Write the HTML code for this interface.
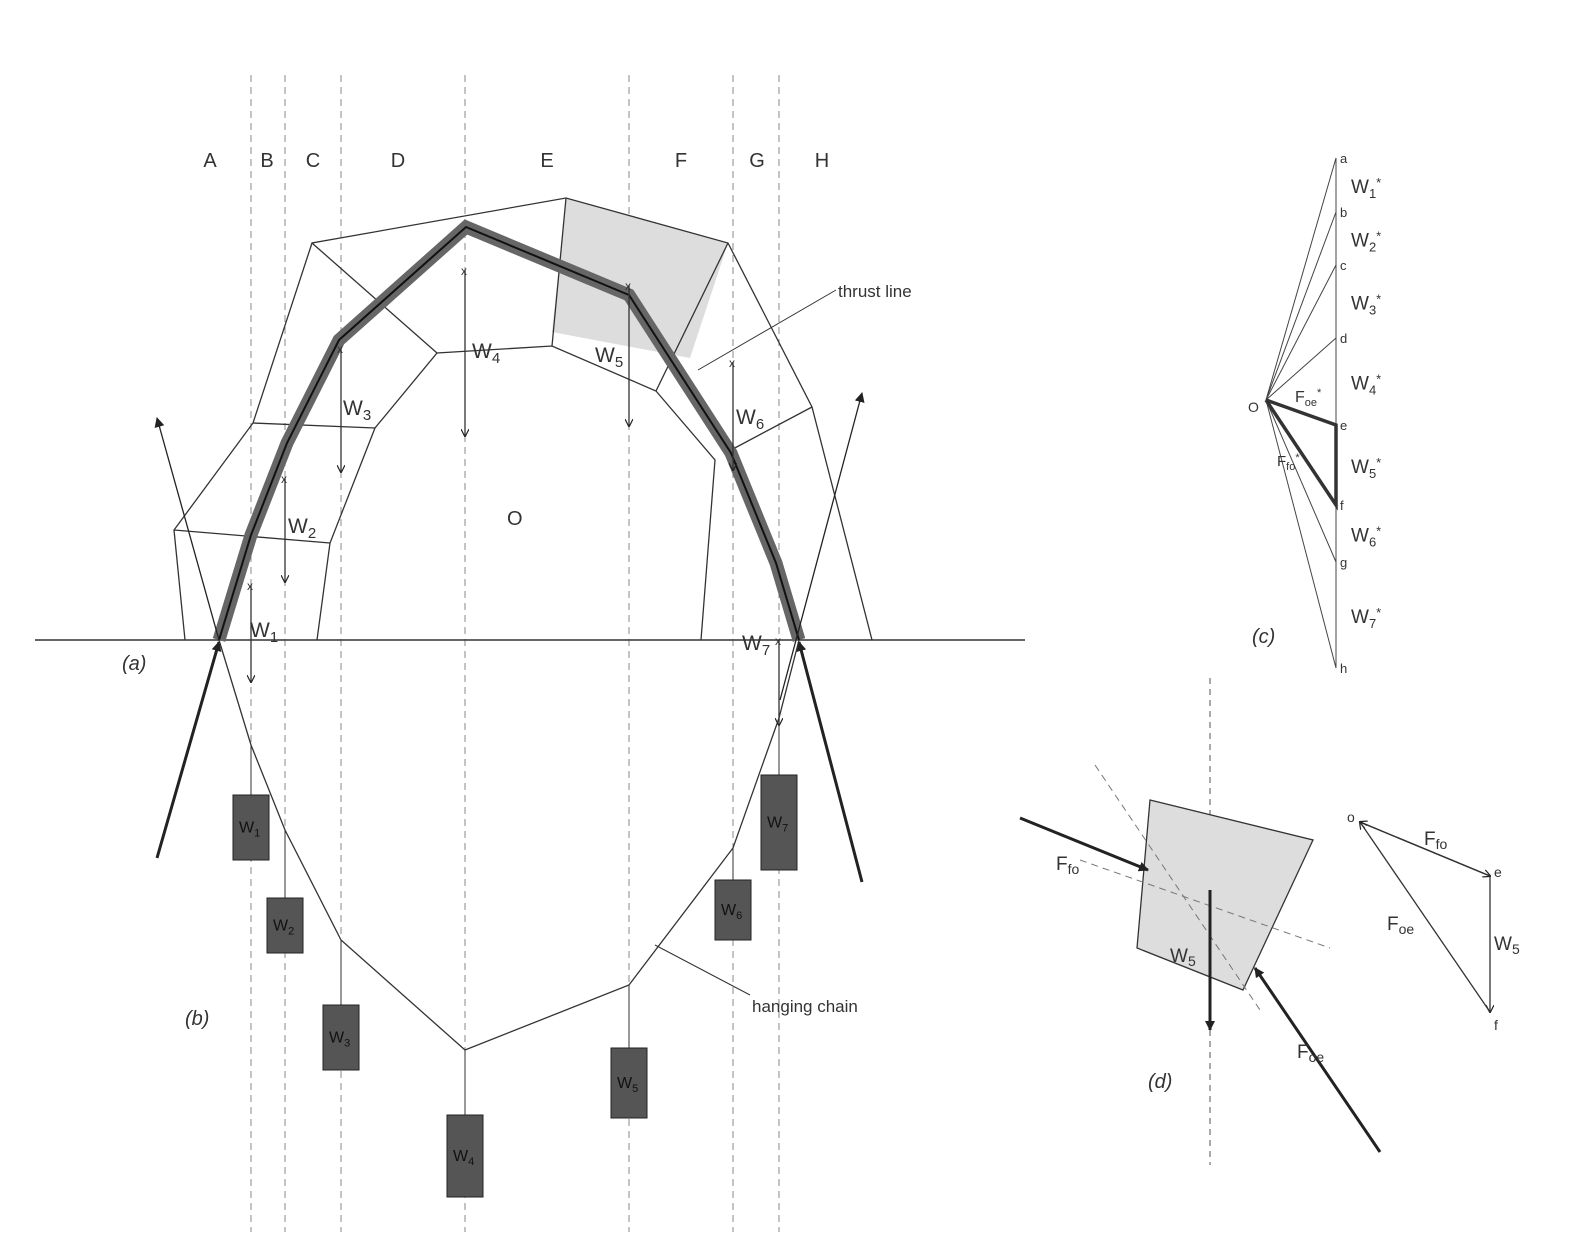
<!DOCTYPE html>
<html><head><meta charset="utf-8"><style>
html,body{margin:0;padding:0;background:#fff;}
svg{display:block;font-family:"Liberation Sans",sans-serif;}
</style></head><body>
<svg width="1590" height="1251" viewBox="0 0 1590 1251">
<defs>
<marker id="ah" markerWidth="10" markerHeight="10" refX="9" refY="5" orient="auto" markerUnits="userSpaceOnUse"><path d="M0,0 L10,5 L0,10 Z" fill="#222"/></marker>
<marker id="ahs" markerWidth="8" markerHeight="8" refX="7" refY="4" orient="auto" markerUnits="userSpaceOnUse"><path d="M0,0 L8,4 L0,8" fill="none" stroke="#222" stroke-width="1.2"/></marker>
</defs>
<g id="dashes"></g>
<g id="letters" font-size="20" fill="#333"></g>
<polygon points="566,198 728,243 690,358 552,332" fill="#ddd" stroke="none"/>
<g fill="none" stroke="#333" stroke-width="1.3">
<polyline points="185,640 174,530 253,423 312,243 566,198 728,243 812,407 872,640"/>
<polyline points="317,640 330,543 375,428 437,353 552,346 656,391 715,460 701,640"/>
<line x1="312" y1="243" x2="437" y2="353"/><line x1="566" y1="198" x2="552" y2="346"/>
<line x1="728" y1="243" x2="656" y2="391"/><line x1="812" y1="407" x2="731" y2="450"/>
<line x1="253" y1="423" x2="375" y2="428"/><line x1="174" y1="530" x2="330" y2="543"/>
</g>
<line x1="35" y1="640" x2="1025" y2="640" stroke="#333" stroke-width="1.5"/>
<polyline points="219,640 251,535 287,443 339,340 466,227 629,295 731,453 776,563 799,640" fill="none" stroke="#666" stroke-width="13"/>
<polyline points="219,640 251,535 287,443 339,340 466,227 629,295 731,453 776,563 799,640" fill="none" stroke="#111" stroke-width="2"/>
<g id="warrows"></g>
<g stroke="#222" fill="none">
<line x1="219" y1="640" x2="157" y2="418" stroke-width="1.3" marker-end="url(#ah)"/>
<line x1="780" y1="700" x2="862" y2="393" stroke-width="1.3" marker-end="url(#ah)"/>
<line x1="157" y1="858" x2="219" y2="642" stroke-width="3" marker-end="url(#ah)"/>
<line x1="862" y1="882" x2="799" y2="642" stroke-width="3" marker-end="url(#ah)"/>
</g>
<polyline id="chain" fill="none" stroke="#333" stroke-width="1.3"/>
<g id="weights"></g>
<g font-size="20" fill="#333">
<text x="507" y="525">O</text>
<text x="122" y="670" font-style="italic">(a)</text>
<text x="185" y="1025" font-style="italic">(b)</text>
<text x="838" y="297" font-size="17">thrust line</text>
<text x="752" y="1012" font-size="17">hanging chain</text>
</g>
<line x1="836" y1="290" x2="698" y2="370" stroke="#333"/>
<line x1="750" y1="995" x2="655" y2="945" stroke="#333"/>
<g id="pc" stroke="#444" fill="none"></g>
<text x="1252" y="643" font-size="20" font-style="italic" fill="#333">(c)</text>
<g>
<line x1="1210" y1="678" x2="1210" y2="1165" stroke="#555" stroke-dasharray="6,5"/>
<polygon points="1150,800 1313,840 1243,990 1137,948" fill="#ddd" stroke="#333" stroke-width="1.3"/>
<line x1="1095" y1="765" x2="1260" y2="1010" stroke="#777" stroke-dasharray="7,5"/>
<line x1="1080" y1="860" x2="1330" y2="948" stroke="#777" stroke-dasharray="7,5"/>
<line x1="1020" y1="818" x2="1148" y2="870" stroke="#222" stroke-width="3" marker-end="url(#ah)"/>
<line x1="1380" y1="1152" x2="1255" y2="968" stroke="#222" stroke-width="3" marker-end="url(#ah)"/>
<line x1="1210" y1="890" x2="1210" y2="1030" stroke="#222" stroke-width="3" marker-end="url(#ah)"/>
<line x1="1490" y1="876" x2="1360" y2="822" stroke="#333" stroke-width="1.3" marker-end="url(#ahs)"/>
<line x1="1360" y1="822" x2="1490" y2="876" stroke="#333" stroke-width="1.3" marker-end="url(#ahs)"/>
<line x1="1490" y1="876" x2="1490" y2="1012" stroke="#333" stroke-width="1.3" marker-end="url(#ahs)"/>
<line x1="1490" y1="1012" x2="1360" y2="822" stroke="#333" stroke-width="1.3" marker-end="url(#ahs)"/>
<g font-size="19" fill="#333">
<text x="1056" y="870">F<tspan font-size="14" dy="4">fo</tspan></text>
<text x="1297" y="1058">F<tspan font-size="14" dy="4">oe</tspan></text>
<text x="1170" y="962">W<tspan font-size="14" dy="4">5</tspan></text>
<text x="1424" y="845">F<tspan font-size="14" dy="4">fo</tspan></text>
<text x="1387" y="930">F<tspan font-size="14" dy="4">oe</tspan></text>
<text x="1494" y="950">W<tspan font-size="14" dy="4">5</tspan></text>
<text x="1347" y="822" font-size="14">o</text><text x="1494" y="877" font-size="14">e</text><text x="1494" y="1030" font-size="14">f</text>
<text x="1148" y="1088" font-size="20" font-style="italic">(d)</text>
</g>
</g>
<script>
const dashX=[251,285,341,465,629,733,779];
const sectionLabels=["A","B","C","D","E","F","G","H"];
const labelX=[210,267,313,398,547,681,757,822];
const chainX=[219,251,285,341,465,629,733,779,799];
const chainY=[640,745,830,940,1050,985,848,718,640];
const weightNames=["W1","W2","W3","W4","W5","W6","W7"];
const weightBoxTop=[795,898,1005,1115,1048,880,775];
const weightBoxH=[65,55,65,82,70,60,95];
const archArrowTop=[585,478,348,270,285,362,640];
const archArrowBot=[682,582,472,436,426,470,725];
const polyLabels=["a","b","c","d","e","f","g","h"];
const polyY=[158,212,265,338,425,505,562,668];
const NS="http://www.w3.org/2000/svg";
function mk(t,a,p){const e=document.createElementNS(NS,t);for(const k in a)e.setAttribute(k,a[k]);p.appendChild(e);return e;}
function lab(parent,x,y,size,main,sub,sup){
 const t=mk('text',{x:x,y:y,'font-size':size,fill:'#333',stroke:'none'},parent);
 t.appendChild(document.createTextNode(main));
 const s=mk('tspan',{'font-size':Math.round(size*0.7),dy:Math.round(size*0.25)},t);s.textContent=sub;
 if(sup){const u=mk('tspan',{'font-size':Math.round(size*0.7),dy:-Math.round(size*0.6)},t);u.textContent=sup;}
 return t;}
const dg=document.getElementById('dashes');
dashX.forEach(x=>{const l=mk('line',{x1:x,y1:75,x2:x,y2:1232,stroke:'#888','stroke-dasharray':'7,5'},dg);

});
const lg=document.getElementById('letters');
sectionLabels.forEach((s,i)=>{const t=mk('text',{x:labelX[i],y:167,'text-anchor':'middle'},lg);t.textContent=s;

});
document.getElementById('chain').setAttribute('points',chainX.map((x,i)=>x+','+chainY[i]).join(' '));
const wg=document.getElementById('weights');const ag=document.getElementById('warrows');
const wlx=[250,288,343,472,595,736,742],wly=[637,533,415,358,362,424,650];
weightNames.forEach((n,i)=>{const x=chainX[i+1];
mk('line',{x1:x,y1:chainY[i+1],x2:x,y2:weightBoxTop[i],stroke:'#333'},wg);
const r=mk('rect',{x:x-18,y:weightBoxTop[i],width:36,height:weightBoxH[i],fill:'#555',stroke:'#222'},wg);


const t=lab(wg,x-12,weightBoxTop[i]+weightBoxH[i]/2+5,16,'W',String(i+1));t.setAttribute('fill','#111');
mk('line',{x1:x,y1:archArrowTop[i],x2:x,y2:archArrowBot[i],stroke:'#333','stroke-width':1.3,'marker-end':'url(#ahs)'},ag);
const m=mk('text',{x:x-4,y:archArrowTop[i]+5,'font-size':12,fill:'#333'},ag);m.textContent='x';
lab(ag,wlx[i],wly[i],21,'W',String(i+1));
});
const pc=document.getElementById('pc');const ox=1266,oy=400,px=1336;
mk('line',{x1:px,y1:polyY[0],x2:px,y2:polyY[7]},pc);
polyY.forEach((y,i)=>{mk('line',{x1:ox,y1:oy,x2:px,y2:y},pc);
const t=mk('text',{x:px+4,y:y+5,'font-size':13,fill:'#333',stroke:'none'},pc);t.textContent=polyLabels[i];
if(i<7){lab(pc,px+15,(y+polyY[i+1])/2+8,19,'W',String(i+1),'*');}});
mk('polyline',{points:ox+','+oy+' '+px+','+polyY[4]+' '+px+','+polyY[5]+' '+ox+','+oy,'stroke-width':3.5,stroke:'#333'},pc);
const o=mk('text',{x:ox-18,y:oy+12,'font-size':14,fill:'#333',stroke:'none'},pc);o.textContent='O';
lab(pc,1295,402,16,'F','oe','*');
lab(pc,1277,466,15,'F','fo','*');
</script>
</svg>
</body></html>
